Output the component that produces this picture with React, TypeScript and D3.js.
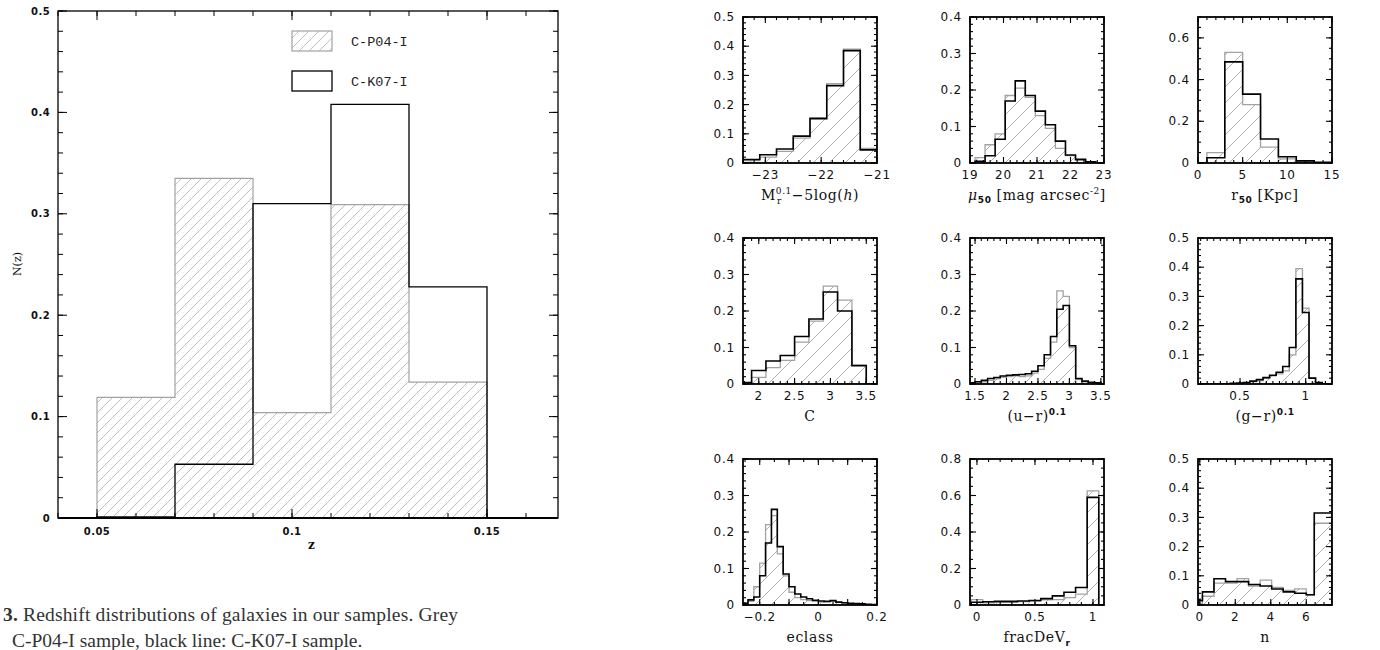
import React from "react";
import * as d3 from "d3";

// ---------- Left figure: redshift distribution ----------
const zEdges = [0.05, 0.07, 0.09, 0.11, 0.13, 0.15];
const zP04 = [0.119, 0.335, 0.104, 0.309, 0.134];
const zK07 = [0.001, 0.053, 0.31, 0.408, 0.228];
const zTickLabels = [0.05, 0.1, 0.15];
const nzTickLabels = [0, 0.1, 0.2, 0.3, 0.4, 0.5];
const legendNames = ["C-P04-I", "C-K07-I"];
const captionLine1 = "Redshift distributions of galaxies in our samples. Grey";
const captionLine2 = "C-P04-I sample, black line: C-K07-I sample.";

// ---------- Right figure: 9 property histograms ----------
const mrEdges = [-23.4, -23.1, -22.8, -22.5, -22.2, -21.9, -21.6, -21.3, -21.0];
const mrP04 = [0.008, 0.02, 0.04, 0.085, 0.155, 0.272, 0.39, 0.05];
const mrK07 = [0.012, 0.028, 0.048, 0.092, 0.152, 0.265, 0.385, 0.045];

const muEdges = [19.15, 19.45, 19.75, 20.05, 20.35, 20.65, 20.95, 21.25, 21.55, 21.85, 22.15, 22.45, 22.75];
const muP04 = [0.015, 0.05, 0.08, 0.185, 0.205, 0.18, 0.13, 0.095, 0.04, 0.02, 0.008, 0.003];
const muK07 = [0.005, 0.02, 0.065, 0.17, 0.225, 0.185, 0.142, 0.105, 0.06, 0.022, 0.01, 0.003];

const r50Edges = [1, 3, 5, 7, 9, 11, 13, 15];
const r50P04 = [0.05, 0.53, 0.28, 0.076, 0.02, 0.008, 0.002];
const r50K07 = [0.025, 0.485, 0.33, 0.115, 0.03, 0.01, 0.003];

const cEdges = [1.7, 1.9, 2.1, 2.3, 2.5, 2.7, 2.9, 3.1, 3.3, 3.5];
const cP04 = [0.002, 0.018, 0.045, 0.065, 0.115, 0.172, 0.268, 0.23, 0.053];
const cK07 = [0.004, 0.037, 0.063, 0.078, 0.13, 0.178, 0.252, 0.2, 0.05];

const urEdges = [1.4, 1.5, 1.6, 1.7, 1.8, 1.9, 2.0, 2.1, 2.2, 2.3, 2.4, 2.5, 2.6, 2.7, 2.8, 2.9, 3.0, 3.1, 3.2, 3.3, 3.4, 3.5];
const urP04 = [0.001, 0.003, 0.006, 0.01, 0.014, 0.018, 0.02, 0.022, 0.02, 0.022, 0.03, 0.04, 0.07, 0.115, 0.255, 0.24, 0.1, 0.012, 0.006, 0.004, 0.002];
const urK07 = [0.003, 0.006, 0.01, 0.015, 0.018, 0.022, 0.024, 0.025, 0.026, 0.028, 0.035, 0.05, 0.08, 0.13, 0.205, 0.215, 0.105, 0.015, 0.008, 0.005, 0.003];

const grEdges = [0.425, 0.475, 0.525, 0.575, 0.625, 0.675, 0.725, 0.775, 0.825, 0.875, 0.925, 0.975, 1.025, 1.075, 1.125];
const grP04 = [0.001, 0.002, 0.004, 0.008, 0.012, 0.02, 0.028, 0.035, 0.045, 0.1, 0.395, 0.26, 0.02, 0.004];
const grK07 = [0.002, 0.003, 0.005, 0.01, 0.015, 0.022, 0.03, 0.04, 0.06, 0.125, 0.36, 0.245, 0.02, 0.005];

const ecEdges = [-0.26, -0.24, -0.22, -0.2, -0.18, -0.16, -0.14, -0.12, -0.1, -0.08, -0.06, -0.04, -0.02, 0, 0.02, 0.04, 0.06, 0.08, 0.1, 0.12, 0.14, 0.16, 0.18, 0.2];
const ecP04 = [0.002, 0.01, 0.05, 0.115, 0.22, 0.245, 0.14, 0.08, 0.035, 0.02, 0.015, 0.012, 0.01, 0.008, 0.009, 0.01, 0.007, 0.005, 0.004, 0.003, 0.002, 0.001, 0.001];
const ecK07 = [0.005, 0.014, 0.022, 0.08, 0.17, 0.262, 0.16, 0.085, 0.05, 0.03, 0.022, 0.017, 0.013, 0.011, 0.01, 0.012, 0.008, 0.006, 0.005, 0.004, 0.003, 0.002, 0.001];

const fdEdges = [-0.05, 0.05, 0.15, 0.25, 0.35, 0.45, 0.55, 0.65, 0.75, 0.85, 0.95, 1.05];
const fdP04 = [0.03, 0.012, 0.015, 0.015, 0.018, 0.022, 0.028, 0.03, 0.04, 0.06, 0.625];
const fdK07 = [0.015, 0.018, 0.02, 0.02, 0.022, 0.025, 0.035, 0.05, 0.07, 0.096, 0.59];

const nEdges = [-0.1, 0.15, 0.8, 1.45, 2.1, 2.75, 3.4, 4.05, 4.7, 5.35, 6.0, 6.45, 7.45];
const nP04 = [0.005, 0.03, 0.075, 0.075, 0.09, 0.065, 0.085, 0.06, 0.05, 0.055, 0.035, 0.28];
const nK07 = [0.015, 0.045, 0.09, 0.08, 0.08, 0.07, 0.065, 0.055, 0.045, 0.04, 0.035, 0.315];

const serif = "'DejaVu Serif', serif";
const sans = "'DejaVu Sans', sans-serif";
const GREY = "#a2a2a2";

const fmt = (v: number) => (v < 0 ? "\u2212" + String(+Math.abs(v).toFixed(3)) : String(+v.toFixed(3)));

function rangeStep(a: number, b: number, s: number) {
  const out: number[] = [];
  const start = Math.ceil(a / s - 1e-6);
  for (let k = start; k * s <= b + 1e-9; k++) out.push(+(k * s).toFixed(6));
  return out;
}

type Cfg = {
  edges: number[]; p04: number[]; k07: number[];
  xd: [number, number]; yd: [number, number];
  xLabels: number[]; xMajor: number; xMinor: number;
  yLabels: number[]; yMajor: number; yMinor: number;
  title: (x: number, y: number) => React.ReactNode;
};

const T = { fontFamily: serif, fontSize: 14, letterSpacing: 0.6, fill: "#111" } as const;

const panels: Cfg[] = [
  {
    edges: mrEdges, p04: mrP04, k07: mrK07, xd: [-23.4, -21], yd: [0, 0.5],
    xLabels: [-23, -22, -21], xMajor: 1, xMinor: 0.2,
    yLabels: [0, 0.1, 0.2, 0.3, 0.4, 0.5], yMajor: 0.1, yMinor: 0.02,
    title: (x, y) => (
      <text x={x} y={y} textAnchor="middle" {...T}>
        M<tspan fontSize={9} dy={-6}>0.1</tspan>
        <tspan fontSize={9} dx={-15} dy={10}>r</tspan>
        <tspan dx={10} dy={-4}>{"\u22125log("}</tspan>
        <tspan fontStyle="italic">h</tspan>)
      </text>
    ),
  },
  {
    edges: muEdges, p04: muP04, k07: muK07, xd: [19, 23], yd: [0, 0.4],
    xLabels: [19, 20, 21, 22, 23], xMajor: 1, xMinor: 0.2,
    yLabels: [0, 0.1, 0.2, 0.3, 0.4], yMajor: 0.1, yMinor: 0.02,
    title: (x, y) => (
      <text x={x} y={y} textAnchor="middle" {...T}>
        <tspan fontStyle="italic">{"\u03bc"}</tspan>
        <tspan fontSize={9} fontFamily={sans} fontWeight="bold" dy={3}>50</tspan>
        <tspan dy={-3}>{" [mag arcsec"}</tspan>
        <tspan fontSize={9} dy={-6}>-2</tspan>
        <tspan dy={6}>]</tspan>
      </text>
    ),
  },
  {
    edges: r50Edges, p04: r50P04, k07: r50K07, xd: [0, 15], yd: [0, 0.7],
    xLabels: [0, 5, 10, 15], xMajor: 5, xMinor: 1,
    yLabels: [0, 0.2, 0.4, 0.6], yMajor: 0.2, yMinor: 0.05,
    title: (x, y) => (
      <text x={x} y={y} textAnchor="middle" {...T}>
        r<tspan fontSize={9} fontFamily={sans} fontWeight="bold" dy={3}>50</tspan>
        <tspan dy={-3}>{" [Kpc]"}</tspan>
      </text>
    ),
  },
  {
    edges: cEdges, p04: cP04, k07: cK07, xd: [1.78, 3.65], yd: [0, 0.4],
    xLabels: [2, 2.5, 3, 3.5], xMajor: 0.5, xMinor: 0.1,
    yLabels: [0, 0.1, 0.2, 0.3, 0.4], yMajor: 0.1, yMinor: 0.02,
    title: (x, y) => (<text x={x} y={y} textAnchor="middle" {...T}>C</text>),
  },
  {
    edges: urEdges, p04: urP04, k07: urK07, xd: [1.42, 3.55], yd: [0, 0.4],
    xLabels: [1.5, 2, 2.5, 3, 3.5], xMajor: 0.5, xMinor: 0.1,
    yLabels: [0, 0.1, 0.2, 0.3, 0.4], yMajor: 0.1, yMinor: 0.02,
    title: (x, y) => (
      <text x={x} y={y} textAnchor="middle" {...T}>
        {"(u\u2212r)"}<tspan fontSize={9} fontFamily={sans} fontWeight="bold" dy={-6}>0.1</tspan>
      </text>
    ),
  },
  {
    edges: grEdges, p04: grP04, k07: grK07, xd: [0.18, 1.2], yd: [0, 0.5],
    xLabels: [0.5, 1], xMajor: 0.5, xMinor: 0.05,
    yLabels: [0, 0.1, 0.2, 0.3, 0.4, 0.5], yMajor: 0.1, yMinor: 0.02,
    title: (x, y) => (
      <text x={x} y={y} textAnchor="middle" {...T}>
        {"(g\u2212r)"}<tspan fontSize={9} fontFamily={sans} fontWeight="bold" dy={-6}>0.1</tspan>
      </text>
    ),
  },
  {
    edges: ecEdges, p04: ecP04, k07: ecK07, xd: [-0.257, 0.2], yd: [0, 0.4],
    xLabels: [-0.2, 0, 0.2], xMajor: 0.1, xMinor: 0.05,
    yLabels: [0, 0.1, 0.2, 0.3, 0.4], yMajor: 0.1, yMinor: 0.02,
    title: (x, y) => (<text x={x} y={y} textAnchor="middle" {...T}>eclass</text>),
  },
  {
    edges: fdEdges, p04: fdP04, k07: fdK07, xd: [-0.06, 1.095], yd: [0, 0.8],
    xLabels: [0, 0.5, 1], xMajor: 0.5, xMinor: 0.1,
    yLabels: [0, 0.2, 0.4, 0.6, 0.8], yMajor: 0.2, yMinor: 0.05,
    title: (x, y) => (
      <text x={x} y={y} textAnchor="middle" {...T}>
        fracDeV<tspan fontSize={9} fontFamily={sans} fontWeight="bold" dy={4}>r</tspan>
      </text>
    ),
  },
  {
    edges: nEdges, p04: nP04, k07: nK07, xd: [-0.1, 7.45], yd: [0, 0.5],
    xLabels: [0, 2, 4, 6], xMajor: 2, xMinor: 0.5,
    yLabels: [0, 0.1, 0.2, 0.3, 0.4, 0.5], yMajor: 0.1, yMinor: 0.02,
    title: (x, y) => (<text x={x} y={y} textAnchor="middle" {...T}>n</text>),
  },
];

const COL_X = [743, 970, 1198];
const ROW_Y = [17, 238, 459];
const PW = 134;
const PH = 146;

function stepPts(edges: number[], vals: number[], xs: any, ys: any): [number, number][] {
  const pts: [number, number][] = [[xs(edges[0]), ys(0)]];
  vals.forEach((v, i) => {
    pts.push([xs(edges[i]), ys(v)]);
    pts.push([xs(edges[i + 1]), ys(v)]);
  });
  pts.push([xs(edges[edges.length - 1]), ys(0)]);
  return pts;
}

function Panel({ cfg, idx }: { cfg: Cfg; idx: number }) {
  const x0 = COL_X[idx % 3];
  const y0 = ROW_Y[Math.floor(idx / 3)];
  const xs = d3.scaleLinear().domain(cfg.xd).range([x0, x0 + PW]);
  const ys = d3.scaleLinear().domain(cfg.yd).range([y0 + PH, y0]);
  const line = d3.line();
  const greyPts = stepPts(cfg.edges, cfg.p04, xs, ys);
  const blackPts: [number, number][] = [[x0, ys(0)], ...stepPts(cfg.edges, cfg.k07, xs, ys), [x0 + PW, ys(0)]];
  const clipId = `clip${idx}`;
  const xMaj = rangeStep(cfg.xd[0], cfg.xd[1], cfg.xMajor);
  const xMin = rangeStep(cfg.xd[0], cfg.xd[1], cfg.xMinor);
  const yMaj = rangeStep(cfg.yd[0], cfg.yd[1], cfg.yMajor);
  const yMin = rangeStep(cfg.yd[0], cfg.yd[1], cfg.yMinor);
  const bottom = y0 + PH;
  const tk = { stroke: "#000", strokeWidth: 1.1 };
  return (
    <g>
      <defs>
        <clipPath id={clipId}>
          <rect x={x0} y={y0} width={PW} height={PH} />
        </clipPath>
      </defs>
      <g clipPath={`url(#${clipId})`}>
        <path d={line(greyPts) + "Z"} fill="url(#hatchS)" stroke={GREY} strokeWidth={1.3} />
        <path d={line(blackPts) || ""} fill="none" stroke="#000" strokeWidth={1.6} />
      </g>
      {xMin.map((v, i) => (
        <g key={"xm" + i}>
          <line x1={xs(v)} x2={xs(v)} y1={bottom} y2={bottom - 3} {...tk} />
          <line x1={xs(v)} x2={xs(v)} y1={y0} y2={y0 + 3} {...tk} />
        </g>
      ))}
      {xMaj.map((v, i) => (
        <g key={"xM" + i}>
          <line x1={xs(v)} x2={xs(v)} y1={bottom} y2={bottom - 6} {...tk} />
          <line x1={xs(v)} x2={xs(v)} y1={y0} y2={y0 + 6} {...tk} />
        </g>
      ))}
      {yMin.map((v, i) => (
        <g key={"ym" + i}>
          <line x1={x0} x2={x0 + 3} y1={ys(v)} y2={ys(v)} {...tk} />
          <line x1={x0 + PW} x2={x0 + PW - 3} y1={ys(v)} y2={ys(v)} {...tk} />
        </g>
      ))}
      {yMaj.map((v, i) => (
        <g key={"yM" + i}>
          <line x1={x0} x2={x0 + 6} y1={ys(v)} y2={ys(v)} {...tk} />
          <line x1={x0 + PW} x2={x0 + PW - 6} y1={ys(v)} y2={ys(v)} {...tk} />
        </g>
      ))}
      <rect x={x0} y={y0} width={PW} height={PH} fill="none" stroke="#000" strokeWidth={1.8} />
      {cfg.xLabels.map((v, i) => (
        <text key={"xl" + i} x={xs(v)} y={bottom + 12} dy="0.35em" textAnchor="middle"
          fontFamily={sans} fontSize={12} letterSpacing={0.8} fill="#111">{fmt(v)}</text>
      ))}
      {cfg.yLabels.map((v, i) => (
        <text key={"yl" + i} x={x0 - 8} y={ys(v)} dy="0.35em" textAnchor="end"
          fontFamily={sans} fontSize={12} letterSpacing={0.8} fill="#111">{fmt(v)}</text>
      ))}
      {cfg.title(x0 + PW / 2, bottom + 37)}
    </g>
  );
}

function LeftFigure() {
  const L = 58, R = 558, TOP = 11, BOT = 518;
  const xs = d3.scaleLinear().domain([0.04, 0.04 + (R - L) / 3900]).range([L, R]);
  const ys = d3.scaleLinear().domain([0, 0.5]).range([BOT, TOP]);
  const line = d3.line();
  const greyPts = stepPts(zEdges, zP04, xs, ys);
  const blackPts: [number, number][] = [[L, BOT], ...stepPts(zEdges, zK07, xs, ys), [R, BOT]];
  const xMin = rangeStep(0.04, xs.domain()[1], 0.01);
  const xMaj = rangeStep(0.04, xs.domain()[1], 0.05);
  const yMin = rangeStep(0, 0.5, 0.02);
  const yMaj = rangeStep(0, 0.5, 0.1);
  const tk = { stroke: "#000", strokeWidth: 1 };
  return (
    <g>
      <path d={line(greyPts) + "Z"} fill="url(#hatchL)" stroke={GREY} strokeWidth={1.2} />
      <path d={line(blackPts) || ""} fill="none" stroke="#000" strokeWidth={1.3} />
      {xMin.map((v, i) => (
        <g key={"a" + i}>
          <line x1={xs(v)} x2={xs(v)} y1={BOT} y2={BOT - 5} {...tk} />
          <line x1={xs(v)} x2={xs(v)} y1={TOP} y2={TOP + 5} {...tk} />
        </g>
      ))}
      {xMaj.map((v, i) => (
        <g key={"b" + i}>
          <line x1={xs(v)} x2={xs(v)} y1={BOT} y2={BOT - 9} {...tk} />
          <line x1={xs(v)} x2={xs(v)} y1={TOP} y2={TOP + 9} {...tk} />
        </g>
      ))}
      {yMin.map((v, i) => (
        <g key={"c" + i}>
          <line x1={L} x2={L + 5} y1={ys(v)} y2={ys(v)} {...tk} />
          <line x1={R} x2={R - 5} y1={ys(v)} y2={ys(v)} {...tk} />
        </g>
      ))}
      {yMaj.map((v, i) => (
        <g key={"d" + i}>
          <line x1={L} x2={L + 9} y1={ys(v)} y2={ys(v)} {...tk} />
          <line x1={R} x2={R - 9} y1={ys(v)} y2={ys(v)} {...tk} />
        </g>
      ))}
      <rect x={L} y={TOP} width={R - L} height={BOT - TOP} fill="none" stroke="#000" strokeWidth={1.3} />
      <line x1={L} x2={R} y1={BOT} y2={BOT} stroke="#000" strokeWidth={2.2} />
      {nzTickLabels.map((v, i) => (
        <text key={"yl" + i} x={L - 8} y={ys(v)} dy="0.35em" textAnchor="end" fontFamily={sans}
          fontWeight="bold" fontSize={10} letterSpacing={0.4} fill="#111">{fmt(v)}</text>
      ))}
      {zTickLabels.map((v, i) => (
        <text key={"xl" + i} x={xs(v)} y={BOT + 13} dy="0.35em" textAnchor="middle" fontFamily={sans}
          fontWeight="bold" fontSize={10} letterSpacing={0.4} fill="#111">{fmt(v)}</text>
      ))}
      <text x={xs(0.105)} y={BOT + 31} textAnchor="middle" fontFamily={serif} fontWeight="bold" fontSize={12} fill="#111">z</text>
      <text transform={`translate(17,264) rotate(-90)`} textAnchor="middle" dy="0.35em" fontFamily={serif} fontSize={11} fill="#111">N(z)</text>
      {/* legend */}
      <rect x={292} y={31} width={40} height={20} fill="url(#hatchL)" stroke={GREY} strokeWidth={1.2} />
      <rect x={292} y={71} width={40} height={20} fill="none" stroke="#000" strokeWidth={1.3} />
      {legendNames.map((n, i) => (
        <text key={n} x={351} y={46 + i * 40} fontFamily="'Liberation Mono', monospace" fontSize={13.5} fill="#222">{n}</text>
      ))}
      {/* caption */}
      <text x={3} y={621} fontFamily="'Liberation Serif', serif" fontSize={19.5} fill="#333" textLength={455} lengthAdjust="spacing">
        <tspan fontWeight="bold">3.</tspan> {captionLine1}
      </text>
      <text x={12} y={647} fontFamily="'Liberation Serif', serif" fontSize={19.5} fill="#333">{captionLine2}</text>
    </g>
  );
}

export default function App() {
  return (
    <svg width={1380} height={650} style={{ position: "absolute", left: 0, top: 0, background: "#fff" }}>
      <defs>
        <pattern id="hatchL" patternUnits="userSpaceOnUse" width={10} height={10}>
          <path d="M-1,1 l2,-2 M0,10 l10,-10 M9,11 l2,-2" stroke="#b0b0b0" strokeWidth={0.8} />
        </pattern>
        <pattern id="hatchS" patternUnits="userSpaceOnUse" width={16} height={16}>
          <path d="M-1,1 l2,-2 M0,16 l16,-16 M15,17 l2,-2" stroke="#a8a8a8" strokeWidth={0.9} />
        </pattern>
      </defs>
      <rect x={0} y={0} width={1380} height={650} fill="#fff" />
      <LeftFigure />
      {panels.map((p, i) => (
        <Panel key={i} cfg={p} idx={i} />
      ))}
    </svg>
  );
}
